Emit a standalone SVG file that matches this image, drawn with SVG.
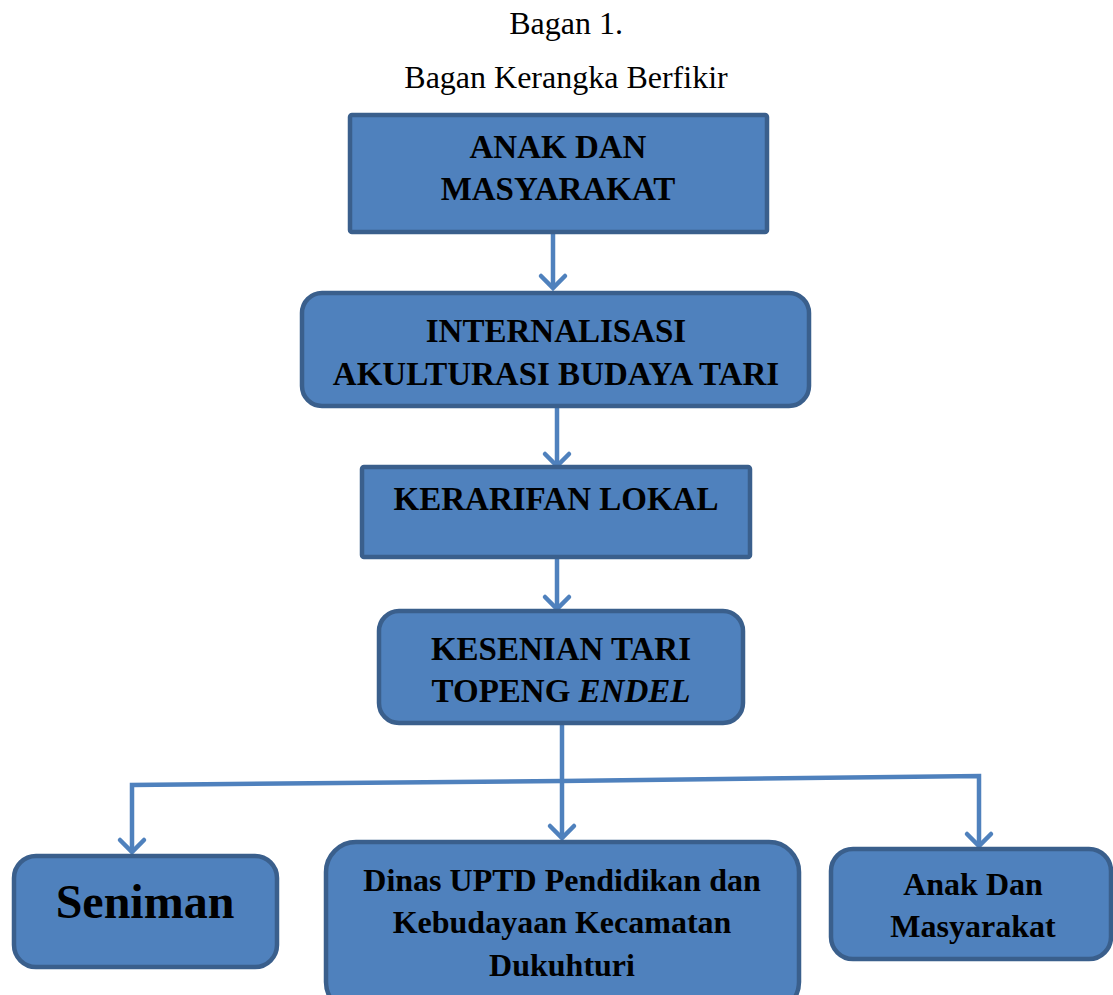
<svg xmlns="http://www.w3.org/2000/svg" width="1113" height="995" viewBox="0 0 1113 995">
<style>
.box{fill:#4F81BD;stroke:#3A5F8C;stroke-width:4.5}
.t{font-family:"Liberation Serif","Times New Roman",serif;font-weight:bold;font-size:33px;fill:#000;text-anchor:middle}
.m{font-size:32px}
.title{font-family:"Liberation Serif","Times New Roman",serif;font-size:32px;fill:#000;text-anchor:middle}
.c{fill:none;stroke:#4F81BD;stroke-width:4.5;stroke-linejoin:miter}
</style>
<defs>
<marker id="arr" markerUnits="userSpaceOnUse" viewBox="-16 -16 20 32" markerWidth="20" markerHeight="32" refX="0" refY="0" orient="auto" overflow="visible">
<path d="M-12,-12 L0,0 L-12,12" fill="none" stroke="#4F81BD" stroke-width="4.5" stroke-linecap="round" stroke-linejoin="miter"/>
</marker>
</defs>
<rect width="1113" height="995" fill="#fff"/>
<g id="title">
<text class="title" x="566" y="34">Bagan 1.</text>
<text class="title" x="566" y="88">Bagan Kerangka Berfikir</text>
</g>
<g id="connectors">
<path class="c" d="M553,233 L553,288" marker-end="url(#arr)"/>
<path class="c" d="M557,408 L557,466" marker-end="url(#arr)"/>
<path class="c" d="M557,559 L557,609" marker-end="url(#arr)"/>
<path class="c" d="M562,725 L562,838" marker-end="url(#arr)"/>
<path class="c" d="M562,781 L132,785 L132,852" marker-end="url(#arr)"/>
<path class="c" d="M562,781 L979,776 L979,846" marker-end="url(#arr)"/>
</g>
<g id="node-anak-masyarakat">
<rect class="box" x="350" y="115" width="417" height="117" rx="2"/>
<text class="t" x="558" y="158">ANAK DAN</text>
<text class="t" x="558" y="200">MASYARAKAT</text>
</g>
<g id="node-internalisasi">
<rect class="box" x="302" y="293" width="507" height="113" rx="20"/>
<text class="t" x="556" y="342">INTERNALISASI</text>
<text class="t" x="556" y="385">AKULTURASI BUDAYA TARI</text>
</g>
<g id="node-kerarifan">
<rect class="box" x="362" y="467" width="388" height="90" rx="2"/>
<text class="t" x="556" y="510">KERARIFAN LOKAL</text>
</g>
<g id="node-kesenian">
<rect class="box" x="379" y="611" width="364" height="112" rx="20"/>
<text class="t" x="561" y="660">KESENIAN TARI</text>
<text class="t" x="561" y="702">TOPENG <tspan font-style="italic">ENDEL</tspan></text>
</g>
<g id="node-seniman">
<rect class="box" x="14" y="856" width="263" height="111" rx="22"/>
<text class="t" x="145" y="918" style="font-size:48px">Seniman</text>
</g>
<g id="node-dinas">
<rect class="box" x="326" y="842" width="473" height="170" rx="30"/>
<text class="t m" x="562" y="891">Dinas UPTD Pendidikan dan</text>
<text class="t m" x="562" y="933">Kebudayaan Kecamatan</text>
<text class="t m" x="562" y="976">Dukuhturi</text>
</g>
<g id="node-anak-dan">
<rect class="box" x="831" y="849" width="280" height="110" rx="22"/>
<text class="t m" x="973" y="895">Anak Dan</text>
<text class="t m" x="973" y="937">Masyarakat</text>
</g>
</svg>
